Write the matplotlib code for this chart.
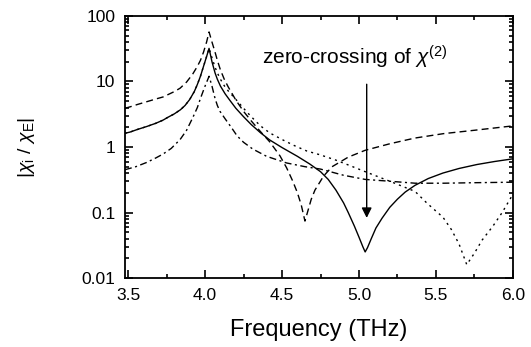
import numpy as np
import matplotlib
matplotlib.use("Agg")
import matplotlib.pyplot as plt
from matplotlib.ticker import FixedLocator, LogLocator, NullFormatter

plt.rcParams['font.family'] = ['Liberation Sans', 'DejaVu Sans']
plt.rcParams['mathtext.fontset'] = 'custom'
plt.rcParams['mathtext.rm'] = 'Liberation Sans'
plt.rcParams['mathtext.it'] = 'Liberation Sans:italic'

# values (frequency in THz, ratio)
solid_x = [3.48, 3.513, 3.56, 3.62, 3.68, 3.727, 3.76, 3.80, 3.84, 3.87, 3.90, 3.93, 3.95,
           3.97, 3.99, 4.01, 4.026, 4.045, 4.065, 4.08, 4.10, 4.13, 4.16, 4.20, 4.25, 4.30,
           4.36, 4.42, 4.50, 4.60, 4.68, 4.75, 4.80, 4.85, 4.90, 4.93, 4.97, 5.00, 5.025,
           5.04, 5.055, 5.08, 5.11, 5.15, 5.20, 5.25, 5.30, 5.364, 5.45, 5.545, 5.65, 5.766,
           5.88, 6.0]
solid_y = [1.62, 1.69, 1.85, 2.05, 2.3, 2.57, 2.85, 3.2, 3.7, 4.3, 5.3, 7.0, 9.0,
           12, 17, 24, 32, 20, 13.5, 10.8, 8.5, 6.5, 5.2, 3.9, 2.9, 2.2,
           1.65, 1.28, 0.98, 0.72, 0.55, 0.42, 0.32, 0.22, 0.14, 0.1, 0.062, 0.042, 0.03,
           0.025, 0.029, 0.04, 0.058, 0.082, 0.12, 0.16, 0.205, 0.26, 0.33, 0.40, 0.47, 0.54,
           0.60, 0.66]

dash_x = [3.48, 3.513, 3.56, 3.62, 3.68, 3.727, 3.80, 3.838, 3.88, 3.92, 3.95, 3.97, 3.99,
          4.01, 4.026, 4.045, 4.065, 4.08, 4.10, 4.125, 4.15, 4.20, 4.25, 4.30, 4.357, 4.42,
          4.487, 4.53, 4.57, 4.60, 4.625, 4.649, 4.665, 4.69, 4.714, 4.77, 4.825, 4.93, 5.04,
          5.20, 5.364, 5.55, 5.75, 6.0]
dash_y = [3.9, 4.1, 4.45, 4.9, 5.4, 5.8, 7.0, 7.9, 9.8, 13, 17, 21, 28,
          40, 57, 40, 28, 21, 15, 10.8, 8.3, 5.2, 3.5, 2.5, 1.75, 1.2,
          0.73, 0.48, 0.3, 0.2, 0.13, 0.074, 0.1, 0.16, 0.22, 0.36, 0.5, 0.7, 0.89,
          1.12, 1.37, 1.6, 1.8, 2.1]

dot_x = [3.48, 3.513, 3.56, 3.62, 3.68, 3.727, 3.76, 3.80, 3.84, 3.87, 3.90, 3.93, 3.95,
         3.97, 3.99, 4.01, 4.026, 4.045, 4.065, 4.08, 4.10, 4.125, 4.15, 4.195, 4.25, 4.30,
         4.36, 4.42, 4.506, 4.58, 4.66, 4.747, 4.85, 4.95, 5.04, 5.20, 5.364, 5.44, 5.50,
         5.545, 5.60, 5.65, 5.70, 5.75, 5.80, 5.87, 5.93, 6.0]
dot_y = [1.62, 1.69, 1.85, 2.05, 2.3, 2.57, 2.85, 3.2, 3.7, 4.3, 5.3, 7.0, 9.0,
         12, 17, 24, 32, 23, 16.5, 13.5, 10.8, 8.6, 7.2, 5.5, 3.9, 2.9,
         2.1, 1.64, 1.28, 1.05, 0.87, 0.76, 0.63, 0.51, 0.42, 0.3, 0.21, 0.14, 0.105,
         0.085, 0.055, 0.033, 0.016, 0.024, 0.038, 0.062, 0.1, 0.19]

dd_x = [3.48, 3.55, 3.62, 3.68, 3.727, 3.78, 3.838, 3.88, 3.92, 3.95, 3.97, 4.00, 4.026,
        4.045, 4.065, 4.08, 4.097, 4.13, 4.17, 4.208, 4.25, 4.31, 4.40, 4.53, 4.65, 4.75,
        4.90, 5.04, 5.20, 5.364, 5.55, 5.75, 6.0]
dd_y = [0.45, 0.5, 0.58, 0.68, 0.78, 0.95, 1.3, 1.8, 2.8, 4.0, 5.5, 8.5, 12,
        8.5, 5.5, 4.3, 3.5, 2.7, 2.0, 1.48, 1.18, 0.93, 0.72, 0.57, 0.5, 0.46,
        0.37, 0.32, 0.30, 0.28, 0.28, 0.285, 0.29]

xticks = [3.5, 4.0, 4.5, 5.0, 5.5, 6.0]
xticklabels = ['3.5', '4.0', '4.5', '5.0', '5.5', '6.0']
yticks = [0.01, 0.1, 1, 10, 100]
yticklabels = ['0.01', '0.1', '1', '10', '100']

fig = plt.figure(figsize=(5.31, 3.47), dpi=100)
ax = fig.add_axes([0.2354, 0.1988, 0.7306, 0.7552])

ax.plot(solid_x, solid_y, color='black', lw=1.0, ls='-')
ax.plot(dash_x, dash_y, color='black', lw=1.0, ls=(0, (5, 3)))
ax.plot(dot_x, dot_y, color='black', lw=1.0, ls=(0, (1.5, 3)))
ax.plot(dd_x, dd_y, color='black', lw=1.0, ls=(0, (5, 2.5, 1.5, 2.5)))

ax.set_yscale('log')
ax.set_xlim(3.48, 6.0)
ax.set_ylim(0.01, 100)

ax.set_xticks(xticks)
ax.set_xticklabels(xticklabels)
ax.xaxis.set_minor_locator(FixedLocator([3.75, 4.25, 4.75, 5.25, 5.75]))
ax.set_yticks(yticks)
ax.set_yticklabels(yticklabels)
ax.yaxis.set_minor_locator(LogLocator(base=10, subs=np.arange(2, 10), numticks=20))
ax.yaxis.set_minor_formatter(NullFormatter())

ax.tick_params(which='both', direction='in', top=True, right=True, labelsize=12.5, width=1.2)
ax.tick_params(which='major', length=6, pad=7)
ax.tick_params(which='minor', length=3)
for s in ax.spines.values():
    s.set_linewidth(1.3)

ax.set_xlabel('Frequency (THz)', fontsize=17, labelpad=12)
ax.set_ylabel(r'$|\chi_{\mathrm{i}}\ /\ \chi_{\mathrm{E}}|$', fontsize=14, labelpad=32)

ax.text(4.37, 23, r'zero-crossing of $\chi^{(2)}$', fontsize=15, va='center', ha='left')
ax.annotate('', xy=(5.05, 0.075), xytext=(5.05, 10),
            arrowprops=dict(arrowstyle='-|>', color='black', lw=1.0, mutation_scale=15))

fig.savefig('out.png', dpi=100)
